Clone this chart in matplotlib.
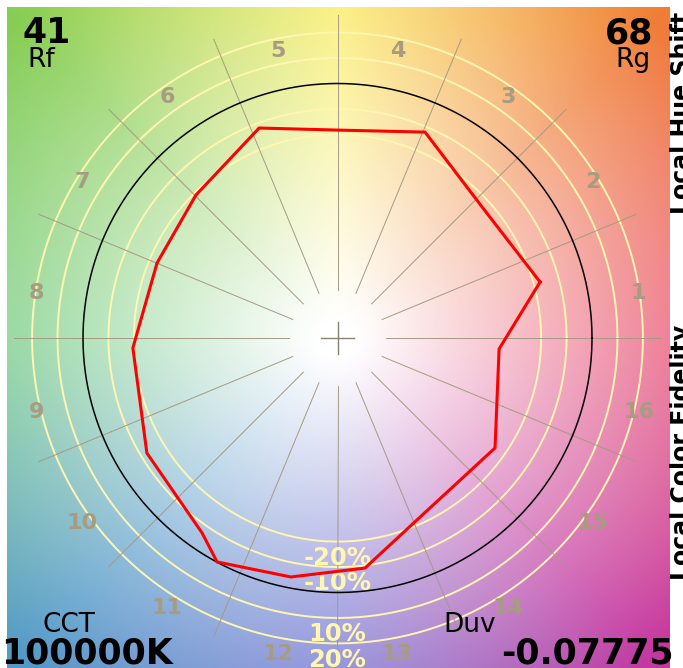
"""TM-30 colour vector graphic with local chroma rings and hue bins."""

import numpy as np
import matplotlib

matplotlib.use("Agg")
import matplotlib.pyplot as plt

# test vector end points, normalised so the reference circle has radius 1
test_a = [0.796, 0.635, 0.619, 0.363, 0.108, -0.183, -0.473, -0.532,
          -0.749, -0.804, -0.709, -0.556, -0.308, -0.002, 0.344, 0.568]
test_b = [0.220, -0.043, -0.432, -0.668, -0.904, -0.939, -0.880, -0.766,
          -0.452, -0.039, 0.295, 0.562, 0.825, 0.817, 0.809, 0.515]
hue_bins = [str(i) for i in range(1, 17)]
chroma_rings = [0.8, 0.9, 1.1, 1.2]
ring_labels = ["-20%", "-10%", "10%", "20%"]
rf_value = "41"
rg_value = "68"
cct_value = "100000K"
duv_value = "-0.07775"

# background hue wheel anchors (angle in degrees, saturated colour)
bg_angles = [0, 45, 90, 135, 180, 225, 270, 315, 360]
bg_colors = [
    (234, 84, 116),
    (240, 126, 56),
    (250, 236, 88),
    (136, 206, 84),
    (116, 204, 130),
    (84, 154, 200),
    (110, 110, 208),
    (196, 56, 160),
    (234, 84, 116),
]

W, H = 683, 668
CX, CY, SCALE = 337.5, 338.0, 254.5
LINE_GREY = "#a59a84"
LABEL_GREY = "#a89c80"
RING_YELLOW = "#fff6b0"


def fig_xy(px, py):
    return px / W, 1 - py / H


def background(xlim, ylim, n=400):
    xs = np.linspace(xlim[0], xlim[1], n)
    ys = np.linspace(ylim[0], ylim[1], n)
    gx, gy = np.meshgrid(xs, ys)
    r = np.hypot(gx, gy)
    theta = np.degrees(np.arctan2(gy, gx)) % 360
    cols = np.array(bg_colors, dtype=float) / 255.0
    img = np.empty(gx.shape + (3,))
    for ch in range(3):
        img[..., ch] = np.interp(theta, bg_angles, cols[:, ch])
    s = np.clip((r - 0.08) / 1.68, 0, 1)[..., None]
    return 1 - (1 - img) * s


def main():
    fig = plt.figure(figsize=(W / 100, H / 100), dpi=100)
    ax = fig.add_axes([7 / W, 0, 663 / W, 661 / H])
    xlim = ((7 - CX) / SCALE, (670 - CX) / SCALE)
    ylim = (-(668 - CY) / SCALE, (CY - 7) / SCALE)
    ax.imshow(background(xlim, ylim), extent=[*xlim, *ylim], origin="lower",
              interpolation="bilinear", zorder=0)
    ax.set_xlim(xlim)
    ax.set_ylim(ylim)
    ax.set_aspect("equal")
    ax.axis("off")

    t = np.linspace(0, 2 * np.pi, 400)
    for ring in chroma_rings:
        ax.plot(ring * np.cos(t), ring * np.sin(t), color=RING_YELLOW, lw=1.4, zorder=2)
    ax.plot(np.cos(t), np.sin(t), color="black", lw=1.1, zorder=3)

    for k in range(16):
        ang = np.radians(22.5 * k)
        ax.plot([0.19 * np.cos(ang), 1.27 * np.cos(ang)],
                [0.19 * np.sin(ang), 1.27 * np.sin(ang)],
                color=LINE_GREY, lw=0.7, zorder=2.5)
    ax.plot([-0.063, 0.063], [0, 0], color="#8a8070", lw=1.0, zorder=2.5)
    ax.plot([0, 0], [-0.063, 0.063], color="#8a8070", lw=1.0, zorder=2.5)

    # hue bin numbers
    for i, label in enumerate(hue_bins):
        ang = np.radians(11.25 + 22.5 * i)
        ax.text(1.206 * np.cos(ang), 1.206 * np.sin(ang) - 0.057, label,
                ha="center", va="center", fontsize=16, fontweight="bold",
                color=LABEL_GREY, zorder=4)

    # chroma ring labels
    for ring, label in zip(chroma_rings, ring_labels):
        ax.text(0, -(ring + 0.092), label, ha="center", va="baseline",
                fontsize=17.5, fontweight="bold", color=RING_YELLOW, zorder=4)

    xs = list(test_a) + [test_a[0]]
    ys = list(test_b) + [test_b[0]]
    ax.plot(xs, ys, color="red", lw=2.2, zorder=5, solid_joinstyle="miter")

    fig.text(*fig_xy(22, 43), rf_value, ha="left", va="baseline",
             fontsize=25, fontweight="bold")
    fig.text(*fig_xy(27, 67), "Rf", ha="left", va="baseline", fontsize=19)
    fig.text(*fig_xy(653, 43), rg_value, ha="right", va="baseline",
             fontsize=25, fontweight="bold")
    fig.text(*fig_xy(651, 67), "Rg", ha="right", va="baseline", fontsize=19)

    fig.text(*fig_xy(69, 632), "CCT", ha="center", va="baseline", fontsize=19)
    fig.text(*fig_xy(87, 663), cct_value, ha="center", va="baseline",
             fontsize=25, fontweight="bold")
    fig.text(*fig_xy(470, 632), "Duv", ha="center", va="baseline", fontsize=19)
    fig.text(*fig_xy(587, 663), duv_value, ha="center", va="baseline",
             fontsize=25, fontweight="bold")

    fig.text(*fig_xy(689, 214), "Local Hue Shift", rotation=90,
             rotation_mode="anchor", ha="left", va="baseline",
             fontsize=17, fontweight="bold")
    fig.text(*fig_xy(689, 580), "Local Color Fidelity", rotation=90,
             rotation_mode="anchor", ha="left", va="baseline",
             fontsize=17, fontweight="bold")

    fig.savefig("out.png", dpi=100)
    plt.close(fig)


if __name__ == "__main__":
    main()
